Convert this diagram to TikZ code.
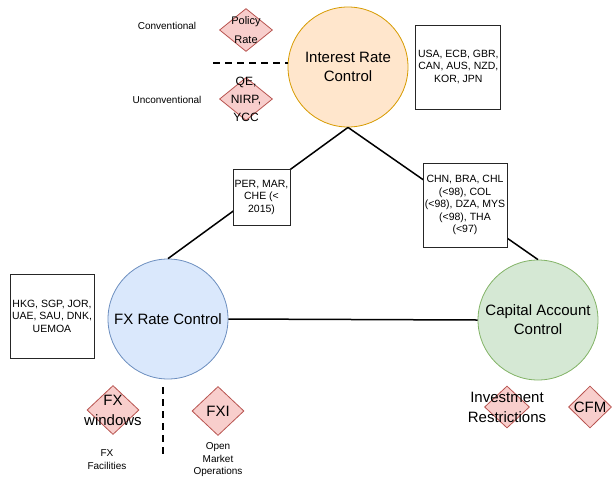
\documentclass[tikz,border=0pt]{standalone}
\usepackage{fontspec}
\setmainfont{Liberation Sans}
\usetikzlibrary{positioning, shapes.geometric}

\definecolor{irfill}{HTML}{FFE6CC}
\definecolor{irline}{HTML}{D79B00}
\definecolor{fxfill}{HTML}{DAE8FC}
\definecolor{fxline}{HTML}{6C8EBF}
\definecolor{cafill}{HTML}{D5E8D4}
\definecolor{caline}{HTML}{82B366}
\definecolor{dmfill}{HTML}{F8CECC}
\definecolor{dmline}{HTML}{B85450}

\begin{document}
\begin{tikzpicture}[
  x=1pt, y=-1pt,
  ctrl/.style={circle, line width=0.8pt, minimum size=120pt, inner sep=0pt, align=center, font=\fontsize{15}{19}\selectfont},
  cbox/.style={draw=black!85, line width=0.8pt, fill=white, align=center, inner sep=1pt, font=\fontsize{10.5}{12.5}\selectfont},
  tool/.style={diamond, draw=dmline, fill=dmfill, line width=0.8pt, inner sep=0pt, minimum width=53pt, minimum height=43pt},
  tooltxt/.style={align=center, inner sep=0pt, font=\fontsize{15}{20}\selectfont},
  note/.style={align=center, inner sep=0pt, font=\fontsize{10}{12.5}\selectfont},
  conn/.style={line width=1.5pt},
  split/.style={line width=1.5pt, dash pattern=on 7pt off 5pt}
]
\useasboundingbox (0,0) rectangle (612,477);

% the three controls
\node (ir)  [ctrl, draw=irline, fill=irfill] at (348,67)  {Interest Rate\\Control};
\node (fx)  [ctrl, draw=fxline, fill=fxfill] at (168,319) {FX Rate Control};
\node (cap) [ctrl, draw=caline, fill=cafill] at (538,320) {Capital Account\\Control};

\draw[conn] (ir.south) -- (fx.north);
\draw[conn] (ir.south) -- (cap.north);
\draw[conn] (fx.east) -- (cap.west);

% country boxes
\node (usa) [cbox, minimum width=85pt, minimum height=84pt, right=7pt of ir] {USA, ECB, GBR,\\CAN, AUS, NZD,\\KOR, JPN};
\node (per) [cbox, minimum width=57pt, minimum height=56pt] at (261.5,197) {PER, MAR,\\CHE (<\\2015)};
\node (chn) [cbox, minimum width=84pt, minimum height=84pt] at (465,205) {CHN, BRA, CHL\\(<98), COL\\(<98), DZA, MYS\\(<98), THA\\(<97)};
\node (hkg) [cbox, minimum width=84pt, minimum height=84pt] at (52,316) {HKG, SGP, JOR,\\UAE, SAU, DNK,\\UEMOA};

% interest rate tools
\node (policy) [tool, label={[tooltxt, font=\fontsize{11}{19}\selectfont]center:Policy\\Rate}] at (246,30) {};
\node (qe)     [tool, label={[tooltxt, font=\fontsize{12}{18}\selectfont]center:QE,\\NIRP,\\YCC}] at (246,99) {};
\node (conv)   [note] at (167,26)  {Conventional};
\node (unconv) [note] at (167,100) {Unconventional};
\coordinate (irsplit) at (213,63);
\draw[split] (irsplit) -- (irsplit -| ir.west);

% fx tools
\node (fxwin) [tool, minimum width=52pt, minimum height=49pt, label={[tooltxt]center:FX\\windows}] at (113,410) {};
\node (fxi)   [tool, minimum width=52pt, minimum height=49pt, label={[tooltxt]center:FXI}] at (218,411) {};
\node (fxfac) [note] at (107,459.5) {FX\\Facilities};
\node (omo)   [note] at (218,460)   {Open\\Market\\Operations};
\coordinate (fxsplit) at (163,387);
\coordinate (fxsplitend) at (163,457);
\draw[split] (fxsplit) -- (fxsplitend);

% capital account tools
\node (inv) [tool, minimum width=45pt, minimum height=42pt, label={[tooltxt]center:Investment\\Restrictions}] at (507,407) {};
\node (cfm) [tool, minimum width=43pt, minimum height=42pt, label={[tooltxt]center:CFM}] at (590,407) {};
\end{tikzpicture}
\end{document}
